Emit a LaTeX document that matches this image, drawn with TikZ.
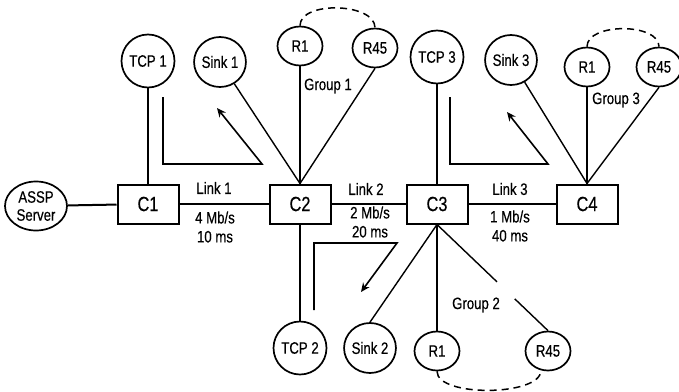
\documentclass[tikz,border=0pt]{standalone}
\usepackage{fontspec}
\setmainfont{Liberation Sans}[FakeStretch=0.8,FakeBold=0.4]
\usepackage{tikz}
\usetikzlibrary{arrows.meta,positioning,calc,shapes.geometric}
\newcommand{\lbl}{\fontsize{16.5}{19}\selectfont}
\newcommand{\swf}{\fontsize{20.5}{22}\selectfont}
\tikzset{
  ep/.style={ellipse, draw, line width=1.7pt, inner sep=0pt, font=\lbl, fill=white, align=center},
  tcp/.style={ep, minimum width=53pt, minimum height=53pt},
  snk/.style={ep, minimum width=49pt, minimum height=50pt},
  rcv/.style={ep, minimum width=45pt, minimum height=39pt},
  sw/.style={draw, line width=2pt, minimum width=61pt, minimum height=39pt, font=\swf, fill=white},
  lnk/.style={line width=2pt},
  thin/.style={line width=1.4pt},
  flow/.style={-{Stealth[length=9pt,width=8pt]}, line width=1.6pt},
  grp/.style={line width=1.5pt, dash pattern=on 7pt off 5pt},
  txt/.style={font=\lbl, inner sep=0pt, align=center}
}

\begin{document}
\begin{tikzpicture}[x=1pt,y=-1pt]
  \useasboundingbox (0,0) rectangle (679,391);
  % server and switches
  \node[ep, minimum width=62pt, minimum height=49pt] (srv) at (36,206) {ASSP\\[-1pt]Server};
  \node[sw] (c1) at (148,204) {C1};
  \node[sw] (c2) at (300,204) {C2};
  \node[sw] (c3) at (437,204) {C3};
  \node[sw] (c4) at (587,204) {C4};
  % top hosts
  \node[tcp] (tcp1) at (148,61) {TCP 1};
  \node[snk] (snk1) at (220,62) {Sink 1};
  \node[rcv] (r1a) at (300,46) {R1};
  \node[rcv] (r45a) at (375,48) {R45};
  \node[tcp] (tcp3) at (437,57) {TCP 3};
  \node[snk] (snk3) at (511,60) {Sink 3};
  \node[rcv] (r1b) at (587,67) {R1};
  \node[rcv] (r45b) at (659,67) {R45};
  % bottom hosts
  \node[tcp] (tcp2) at (300,348) {TCP 2};
  \node[snk] (snk2) at (370,348) {Sink 2};
  \node[rcv] (r1c) at (437,351) {R1};
  \node[rcv] (r45c) at (548,351) {R45};
  % links
  \draw[lnk] (srv) -- (c1);
  \draw[lnk] (c1) -- (c2);
  \draw[lnk] (c2) -- (c3);
  \draw[lnk] (c3) -- (c4);
  \node[txt] (lk1) at (214,188) {Link 1};
  \node[txt] (bw1) at (215,227) {4 Mb/s\\10 ms};
  \node[txt] (lk2) at (366,189) {Link 2};
  \node[txt] (bw2) at (370,222) {2 Mb/s\\20 ms};
  \node[txt] (lk3) at (510,189) {Link 3};
  \node[txt] (bw3) at (510,226) {1 Mb/s\\40 ms};
  % access lines
  \draw[lnk] (tcp1) -- (c1);
  \draw[thin] (snk1) -- (c2.north);
  \draw[thin] (r1a) -- (c2.north);
  \draw[thin] (r45a.south) -- (c2.north);
  \draw[lnk] (tcp2) -- (c2);
  \draw[lnk] (tcp3) -- (c3);
  \draw[thin] (snk3) -- (c4.north);
  \draw[thin] (r1b) -- (c4.north);
  \draw[thin] (r45b.south) -- (c4.north);
  \draw[thin] (c3.south) -- (snk2.north);
  \draw[thin] (c3.south) -- (r1c);
  \draw[thin] (c3.south) -- ($(c3.south)!0.54!(r45c.north)$);
  \draw[thin] ($(c3.south)!0.70!(r45c.north)$) -- (r45c.north);
  % groups
  \draw[grp] (r1a.north) .. controls +(0,-25) and +(0,-25) .. (r45a.north);
  \draw[grp] (r1b.north) .. controls +(0,-24) and +(0,-24) .. (r45b.north);
  \draw[grp] (r1c.south) .. controls +(0,26) and +(0,26) .. (r45c.250);
  \node[txt] (g1) at (328,86) {Group 1};
  \node[txt] (g3) at (616,100) {Group 3};
  \node[txt] (g2) at (476,305) {Group 2};
  % flows
  \coordinate (f1a) at (163,97);
  \coordinate (f1b) at (262,164);
  \coordinate (f1c) at (217,108);
  \draw[flow] (f1a) |- (f1b) -- (f1c);
  \coordinate (f3a) at (450,97);
  \coordinate (f3b) at (548,164);
  \coordinate (f3c) at (507,112);
  \draw[flow] (f3a) |- (f3b) -- (f3c);
  \coordinate (f2a) at (314,310);
  \coordinate (f2b) at (397,243);
  \coordinate (f2c) at (361,292);
  \draw[flow] (f2a) |- (f2b) -- (f2c);
\end{tikzpicture}
\end{document}
